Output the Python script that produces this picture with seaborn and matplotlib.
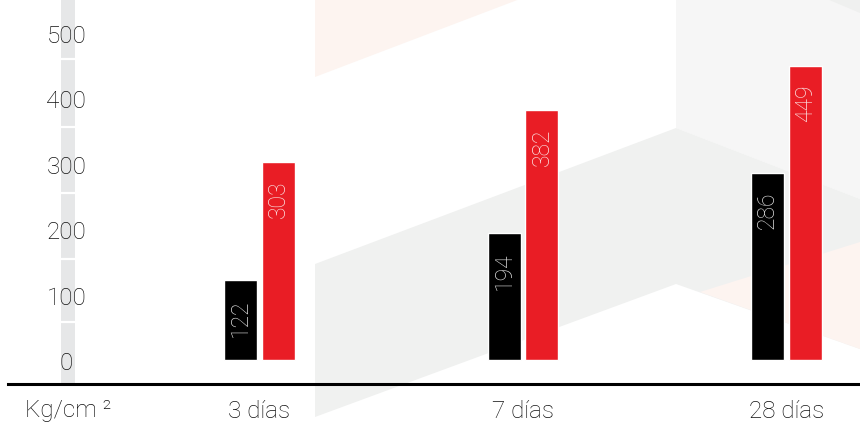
import matplotlib
matplotlib.use("Agg")
import matplotlib.pyplot as plt
import matplotlib.transforms as mtransforms
from matplotlib.patches import Polygon
import pandas as pd
import seaborn as sns

CATEGORIES = ["3 días", "7 días", "28 días"]
SERIES = ["Serie 1", "Serie 2"]
SERIES_1 = [122, 194, 286]
SERIES_2 = [303, 382, 449]
Y_TICKS = [0, 100, 200, 300, 400, 500]
STRIP_BREAKS = [58, 155, 255, 356, 460]
UNIT_LABEL = "Kg/cm ²"

BAR_COLORS = ["#000000", "#e91d25"]
VALUE_COLORS = ["#dcdcdc", "#fbe2e2"]
TEXT_COLOR = "#111111"

W, H = 860, 427

# light background decoration, in pixel coords of the image (y from top)
BACKGROUND = [
    ([(315, 0), (520, 0), (315, 78)], "#fdf4f0"),
    ([(676, 0), (860, 0), (860, 200), (676, 129)], "#f6f6f6"),
    ([(827, 0), (860, 0), (860, 14)], "#eff0ef"),
    ([(315, 265), (676, 129), (860, 200), (860, 350), (676, 285), (315, 418)], "#f0f1f0"),
    ([(700, 293), (860, 243), (860, 350)], "#fdf4f0"),
]


def pixel_transform(fig):
    return mtransforms.Affine2D().scale(1 / W, -1 / H).translate(0, 1) + fig.transFigure


def build_frame():
    rows = []
    for series, values in zip(SERIES, [SERIES_1, SERIES_2]):
        for cat, val in zip(CATEGORIES, values):
            rows.append({"dias": cat, "serie": series, "valor": val})
    return pd.DataFrame(rows)


def main():
    sns.set_style("white")
    plt.rcParams["font.family"] = ["Roboto", "DejaVu Sans"]

    df = build_frame()
    fig = plt.figure(figsize=(W / 100, H / 100), dpi=100, facecolor="white")
    px = pixel_transform(fig)
    for pts, color in BACKGROUND:
        fig.patches.append(Polygon(pts, closed=True, facecolor=color, edgecolor="none",
                                   transform=px, zorder=-10))

    ax = fig.add_axes([8 / W, 42 / H, 852 / W, 385 / H])
    ax.set_facecolor("none")
    ax.set_zorder(1)
    ax.set_axisbelow(False)

    sns.barplot(data=df, x="dias", y="valor", hue="serie", order=CATEGORIES,
                hue_order=SERIES, palette=BAR_COLORS, width=0.288, gap=0.13,
                saturation=1, legend=False, ax=ax, zorder=3)

    ax.set_xlim(-0.9545, 2.279)
    ax.set_ylim(-36.65, 551.3)

    # grey strip behind the y tick labels
    ax.axvspan(-0.7533, -0.7002, color="#e6e7e8", zorder=0.2, lw=0)
    ax.hlines(STRIP_BREAKS, -0.7533, -0.7002, color="white", lw=1.6, zorder=0.3)

    for container, color in zip(ax.containers, VALUE_COLORS):
        for bar in container:
            val = bar.get_height()
            ax.annotate(f"{val:.0f}", xy=(bar.get_x() + bar.get_width() / 2, val),
                        xytext=(0, -18), textcoords="offset pixels", rotation=90,
                        ha="center", va="top", fontsize=16.5, fontweight="light",
                        color=color, zorder=4)

    ax.set_yticks(Y_TICKS)
    ax.set_yticklabels([str(t) for t in Y_TICKS])
    ax.tick_params(axis="y", length=0, pad=-42, labelsize=17.5, labelcolor=TEXT_COLOR)
    for lbl in ax.get_yticklabels():
        lbl.set_ha("center")
        lbl.set_fontweight("light")

    ax.tick_params(axis="x", length=0, pad=11, labelsize=17.5, labelcolor=TEXT_COLOR)
    for lbl in ax.get_xticklabels():
        lbl.set_fontweight("light")

    ax.set_xlabel("")
    ax.set_ylabel("")
    for side in ["top", "right", "left"]:
        ax.spines[side].set_visible(False)
    ax.spines["bottom"].set_color("black")
    ax.spines["bottom"].set_linewidth(2.2)
    ax.grid(False)

    fig.text(25, 411, UNIT_LABEL, transform=px, ha="left", va="center",
             fontsize=17.5, fontweight="light", color=TEXT_COLOR)

    fig.savefig("out.png", dpi=100, facecolor="white")
    plt.close(fig)


if __name__ == "__main__":
    main()
